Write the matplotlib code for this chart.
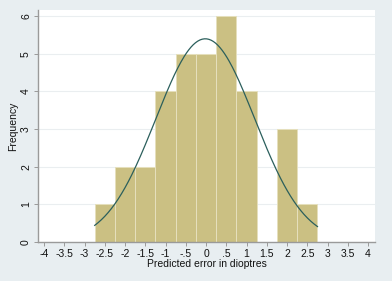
import numpy as np
import matplotlib.pyplot as plt

# histogram bins (left edges), width 0.5 dioptres
bin_left = [-2.75, -2.25, -1.75, -1.25, -0.75, -0.25, 0.25, 0.75, 1.25, 1.75, 2.25]
freq = [1, 2, 2, 4, 5, 5, 6, 4, 0, 3, 1]
bin_width = 0.5

# fitted normal overlay
mu = -0.02
sd = 1.22

xticks = [-4, -3.5, -3, -2.5, -2, -1.5, -1, -0.5, 0, 0.5, 1, 1.5, 2, 2.5, 3, 3.5, 4]
xticklabels = ['-4', '-3.5', '-3', '-2.5', '-2', '-1.5', '-1', '-.5', '0', '.5',
               '1', '1.5', '2', '2.5', '3', '3.5', '4']
yticks = [0, 1, 2, 3, 4, 5, 6]

plt.rcParams['font.family'] = ['Liberation Sans', 'DejaVu Sans']

bg = '#e8eef1'
fig = plt.figure(figsize=(3.92, 2.81), dpi=100, facecolor=bg)
ax = fig.add_axes([38/392, 1 - 242/281, (375 - 38)/392, (242 - 10)/281])
ax.set_facecolor('white')

ax.bar(bin_left, freq, width=bin_width, align='edge', color='#cbc083',
       edgecolor='#e6e0bd', linewidth=0.7, zorder=2)

n = sum(freq)
xs = np.linspace(bin_left[0], bin_left[-1] + bin_width, 200)
ys = n * bin_width / (sd * np.sqrt(2 * np.pi)) * np.exp(-0.5 * ((xs - mu) / sd) ** 2)
ax.plot(xs, ys, color='#2b5f5c', linewidth=0.9, zorder=3)

ax.set_xlim(-4.15, 4.17)
ax.set_ylim(0, 6.16)
ax.set_xticks(xticks)
ax.set_xticklabels(xticklabels)
ax.set_yticks(yticks)
ax.set_yticklabels([str(v) for v in yticks], rotation=90, va='center')
ax.grid(axis='y', color='#eaeef0', linewidth=0.8, zorder=0)
ax.set_axisbelow(True)

for s in ['top', 'right']:
    ax.spines[s].set_visible(False)
for s in ['left', 'bottom']:
    ax.spines[s].set_color('#9a9a9a')
    ax.spines[s].set_linewidth(1.0)

ax.tick_params(axis='both', labelsize=7.5, length=3, width=0.7, color='#9a9a9a',
               pad=2, labelcolor='#111111')
ax.set_xlabel('Predicted error in dioptres', fontsize=7.5, labelpad=0, color='#111111')
ax.set_ylabel('Frequency', fontsize=7.5, labelpad=2, color='#111111')

fig.savefig('out.png', dpi=100, facecolor=bg)
